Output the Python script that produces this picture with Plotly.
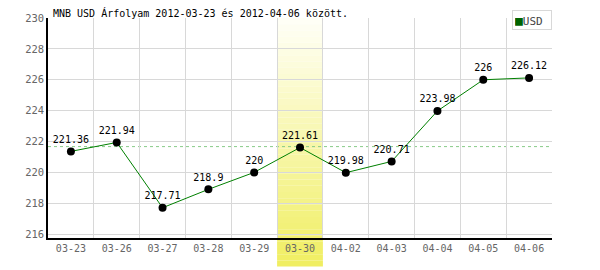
import plotly.graph_objects as go

dates = ["03-23", "03-26", "03-27", "03-28", "03-29", "03-30",
         "04-02", "04-03", "04-04", "04-05", "04-06"]
usd = [221.36, 221.94, 217.71, 218.9, 220, 221.61,
       219.98, 220.71, 223.98, 226, 226.12]
labels = ["221.36", "221.94", "217.71", "218.9", "220", "221.61",
          "219.98", "220.71", "223.98", "226", "226.12"]
avg_line = 221.67
highlight = "03-30"
y_ticks = [216, 218, 220, 222, 224, 226, 228, 230]
title = "MNB USD Árfolyam 2012-03-23 és 2012-04-06 között."

MONO = "DejaVu Sans Mono"

fig = go.Figure()
fig.add_trace(go.Scatter(
    x=dates, y=usd, mode="lines+markers+text",
    text=labels, textposition="top center",
    textfont=dict(family=MONO, size=10, color="#000000"),
    line=dict(color="#008000", width=1),
    marker=dict(color="#000000", size=8),
    showlegend=False, cliponaxis=False,
))

# highlight band with vertical gradient
hi = dates.index(highlight)
n = 40
top, bot = 1.0, -0.13
c0 = (255, 255, 248)
c1 = (240, 238, 96)
for i in range(n):
    y0 = top - (top - bot) * i / n
    y1 = top - (top - bot) * (i + 1) / n
    t = (i + 0.5) / n
    col = "rgb(%d,%d,%d)" % tuple(round(a + (b - a) * t) for a, b in zip(c0, c1))
    if y0 > 0 and y1 < 0:
        fig.add_shape(type="rect", xref="x", yref="paper", x0=hi - 0.5, x1=hi + 0.5,
                      y0=0, y1=y0, fillcolor=col, line_width=0, layer="between")
        fig.add_shape(type="rect", xref="x", yref="paper", x0=hi - 0.5, x1=hi + 0.5,
                      y0=y1, y1=0, fillcolor=col, line_width=0, layer="below")
        continue
    layer = "between" if y1 >= 0 else "below"
    fig.add_shape(type="rect", xref="x", yref="paper", x0=hi - 0.5, x1=hi + 0.5,
                  y0=y1, y1=y0, fillcolor=col, line_width=0, layer=layer)

# average dashed line
fig.add_shape(type="line", xref="paper", yref="y", x0=0, x1=1,
              y0=avg_line, y1=avg_line, layer="between",
              line=dict(color="#88cc88", width=1, dash="3px,3px"))

# title
fig.add_annotation(text=title, xref="paper", yref="paper", x=0, y=1,
                   xanchor="left", yanchor="bottom", xshift=3, yshift=-3,
                   showarrow=False,
                   font=dict(family=MONO, size=10, color="#000000"))

# legend box
fig.add_annotation(text="<span style='color:#006400;font-size:13px'>■</span>USD",
                   xref="paper", yref="paper", x=1, y=1.036,
                   xanchor="right", yanchor="top", showarrow=False,
                   width=34, height=14, align="left", valign="middle",
                   bordercolor="#d8d8d8", borderwidth=1, borderpad=2,
                   bgcolor="#ffffff",
                   font=dict(family=MONO, size=11, color="#444444"))

fig.update_layout(
    width=600, height=270,
    margin=dict(l=48, r=48, t=15, b=32),
    paper_bgcolor="#ffffff", plot_bgcolor="#ffffff",
    xaxis=dict(type="category", tickson="boundaries", showgrid=True,
               gridcolor="#d8d8d8", gridwidth=1, showline=True,
               linecolor="#000000", linewidth=1.5, ticks="", ticklen=0,
               tickfont=dict(family=MONO, size=10, color="#666666"),
               range=[-0.5, len(dates) - 0.5], zeroline=False),
    yaxis=dict(range=[215.75, 230], tickvals=y_ticks, showgrid=True,
               gridcolor="#d8d8d8", gridwidth=1, showline=True,
               linecolor="#000000", linewidth=1.5, ticks="",
               tickfont=dict(family=MONO, size=10.5, color="#666666"),
               zeroline=False),
)

fig.write_html("out.html")
